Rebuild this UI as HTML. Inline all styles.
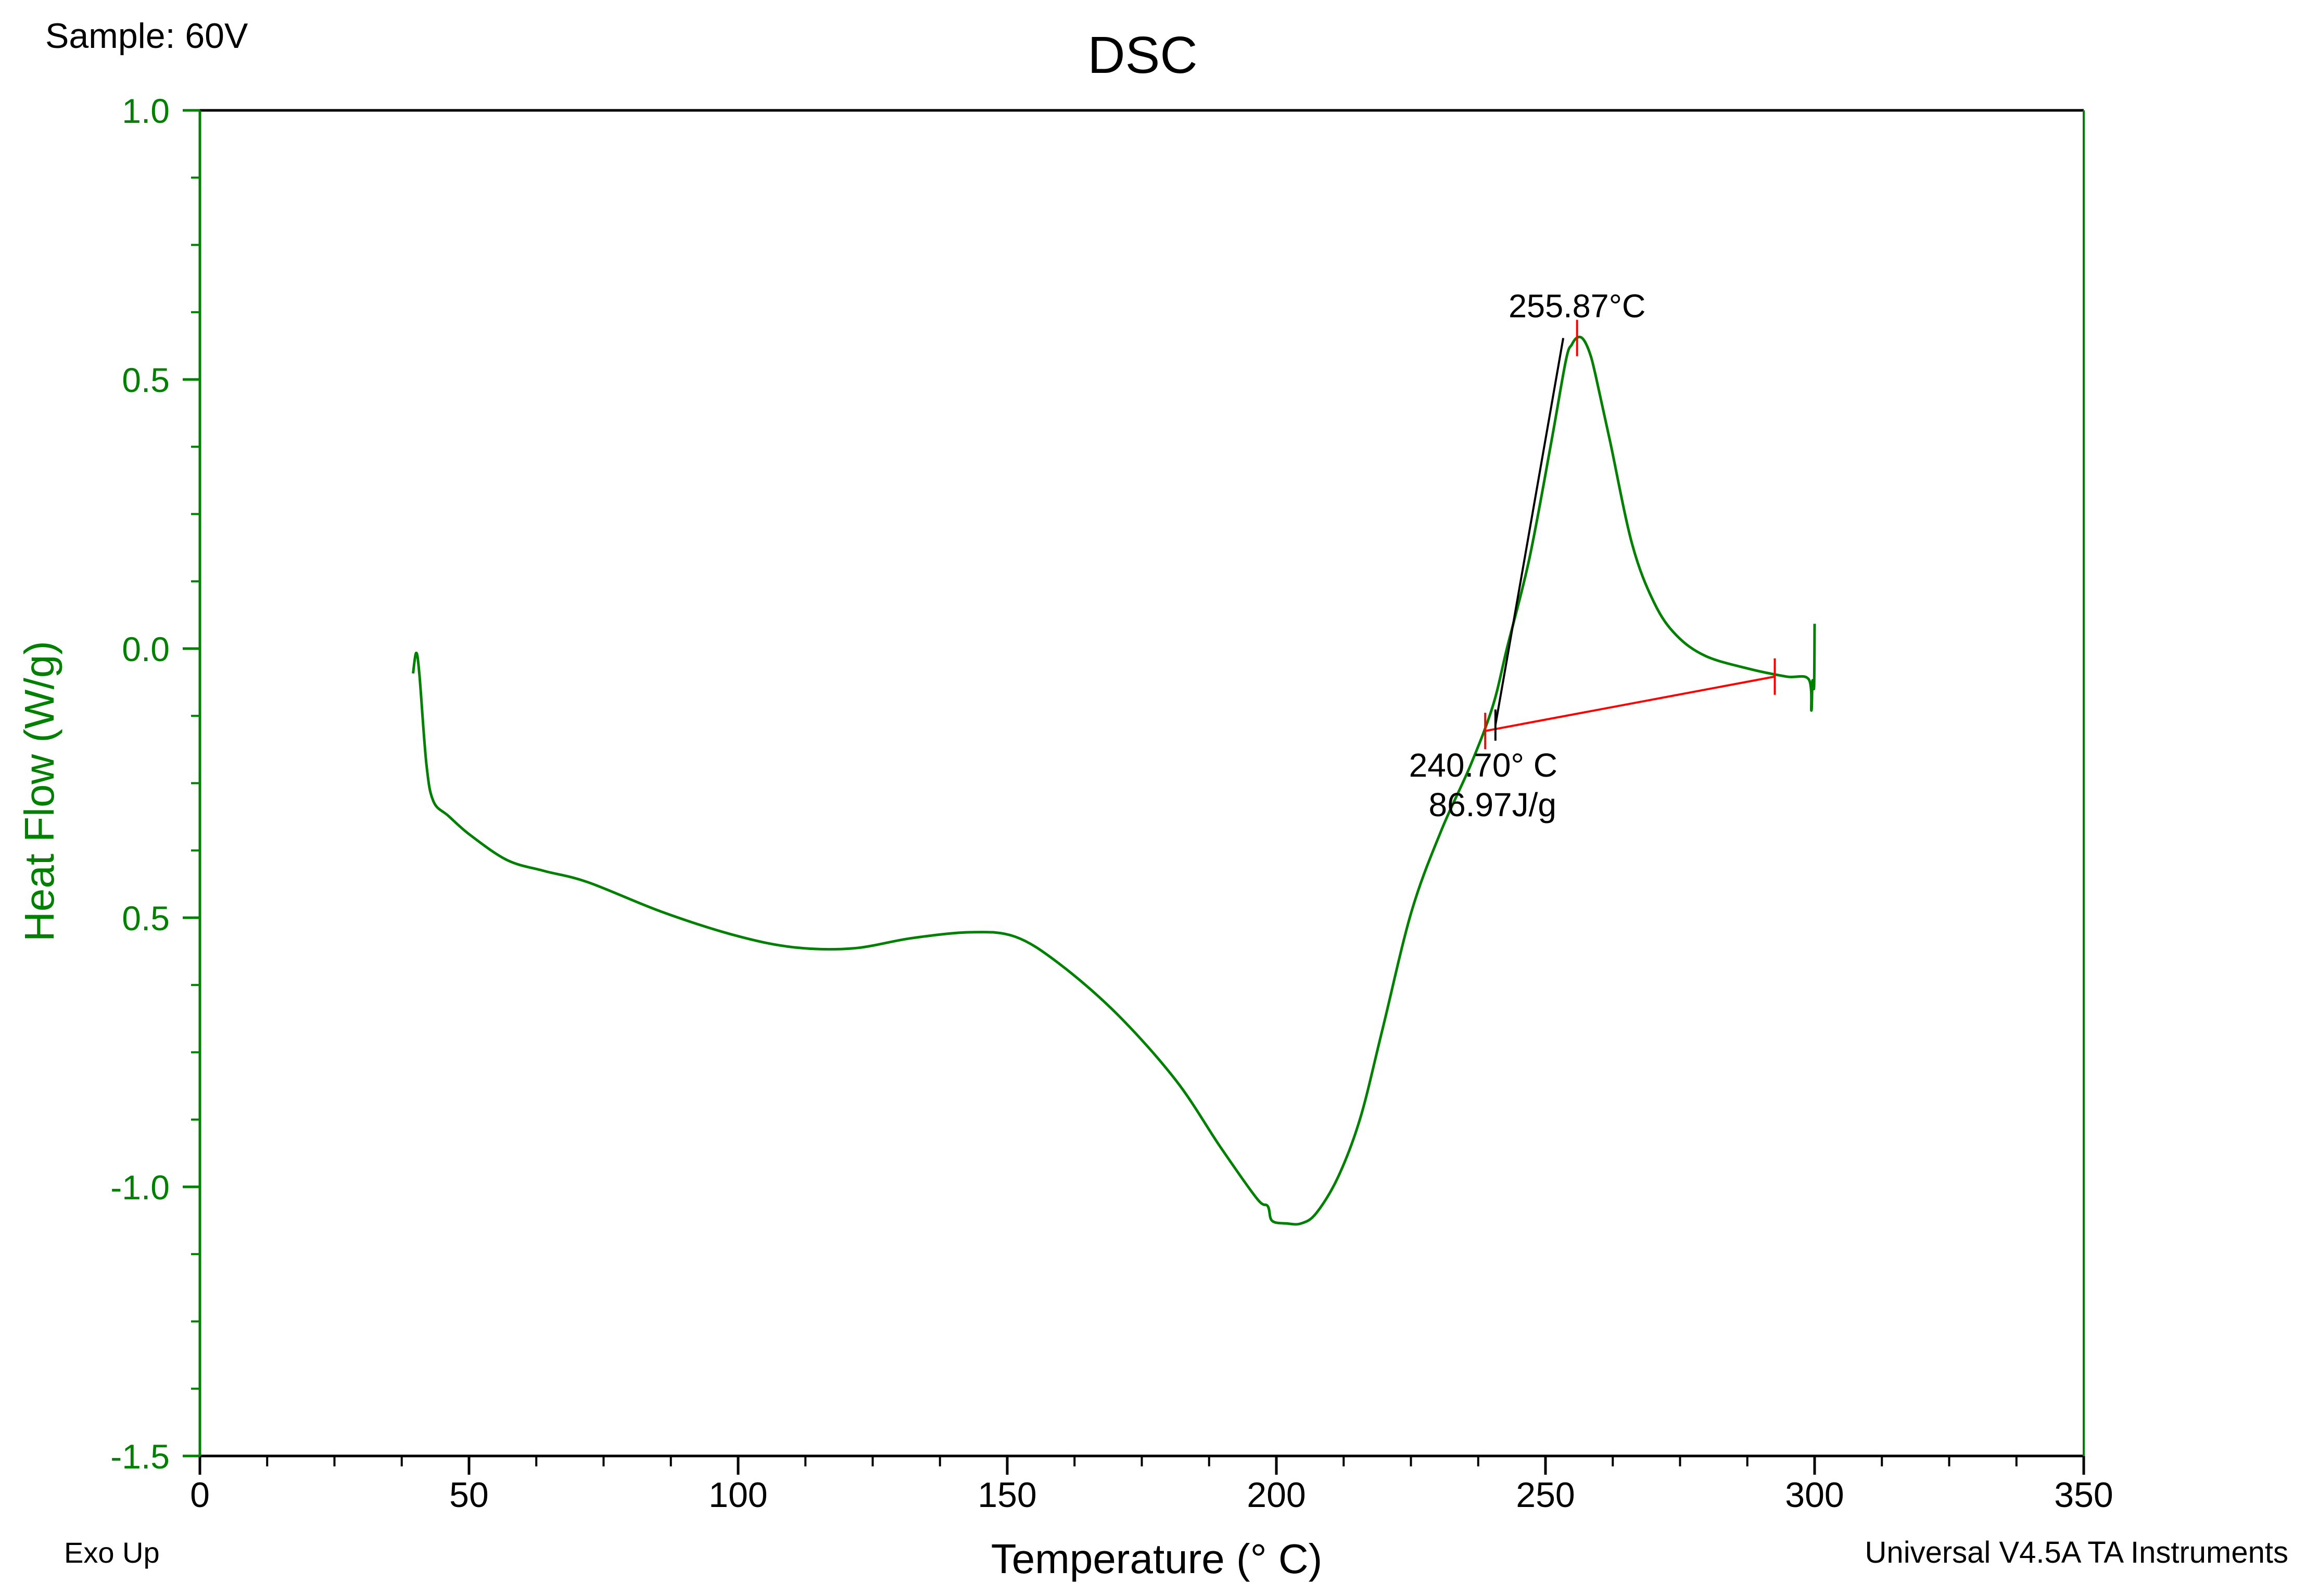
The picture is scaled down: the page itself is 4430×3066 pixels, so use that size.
<!DOCTYPE html>
<html><head><meta charset="utf-8"><style>
html,body{margin:0;padding:0;background:#fff;}
svg{display:block;font-family:"Liberation Sans",Arial,sans-serif;}
</style></head><body>
<svg id="chart" width="4430" height="3066" viewBox="0 0 4430 3066" xmlns="http://www.w3.org/2000/svg">
<rect width="4430" height="3066" fill="#fff"/>
<text x="87" y="92" font-size="68">Sample: 60V</text>
<text x="2195" y="140" font-size="100" text-anchor="middle">DSC</text>
<text x="123" y="3002" font-size="56">Exo Up</text>
<text x="4396" y="3002" font-size="58" text-anchor="end">Universal V4.5A TA Instruments</text>
<text x="2222" y="3022" font-size="80" text-anchor="middle">Temperature (° C)</text>
<text transform="translate(103,1520) rotate(-90)" font-size="80" fill="#008000" text-anchor="middle">Heat Flow (W/g)</text>
<g id="axes"></g>
<g id="plot"></g>
</svg>
<script>
const xTicks=[0,50,100,150,200,250,300,350];
const yTicks=[1.0,0.5,0.0,-0.5,-1.0,-1.5];
const yTickLabels=["1.0","0.5","0.0","0.5","-1.0","-1.5"];
const temps=[39.6,40.2,40.8,42.1,43.4,46.2,50.3,57.1,63.9,72.1,85.8,99.5,110.4,121.3,132.2,143.2,151.4,159.6,170.5,181.4,189.6,196.4,198.4,199.2,201.9,204.6,207.4,211.5,215.6,219.7,225.1,230.6,236.1,240.2,242.9,247.0,251.1,253.8,254.9,255.9,257.0,258.2,259.3,262.0,266.1,270.2,274.3,279.8,288.0,294.8,298.9,299.4,299.6,299.9,300.0];
const heatFlow=[-0.046,-0.008,-0.05,-0.216,-0.284,-0.311,-0.347,-0.393,-0.413,-0.434,-0.489,-0.533,-0.555,-0.557,-0.538,-0.527,-0.535,-0.585,-0.68,-0.803,-0.926,-1.022,-1.036,-1.063,-1.068,-1.068,-1.049,-0.981,-0.872,-0.708,-0.489,-0.339,-0.216,-0.107,0.003,0.167,0.385,0.536,0.565,0.578,0.575,0.55,0.508,0.385,0.194,0.085,0.025,-0.014,-0.038,-0.052,-0.057,-0.115,-0.06,-0.07,0.046];
const baseline=[[238.8,-0.153],[292.6,-0.052]];
const tangent=[[240.7,-0.142],[253.3,0.577]];
const peakT=255.87, peakW=0.577;

const L=384,R=4003,T=212,B=2797;
const sx=v=>L+(v-0)*(R-L)/350;
const sy=v=>T+(1.0-v)*(B-T)/2.5;
const NS="http://www.w3.org/2000/svg";
function mk(tag,attrs,parent,txt){const e=document.createElementNS(NS,tag);for(const k in attrs)e.setAttribute(k,attrs[k]);if(txt!==undefined)e.textContent=txt;parent.appendChild(e);return e;}
const ax=document.getElementById('axes'),pl=document.getElementById('plot');
let e;
e=mk('line',{x1:L,y1:T,x2:R,y2:T,stroke:'#000','stroke-width':5},ax);

e=mk('line',{x1:L,y1:B,x2:R,y2:B,stroke:'#000','stroke-width':5},ax);

e=mk('line',{x1:L,y1:T,x2:L,y2:B,stroke:'#008000','stroke-width':5},ax);

e=mk('line',{x1:R,y1:T,x2:R,y2:B,stroke:'#008000','stroke-width':4},ax);

xTicks.forEach((v,i)=>{
  e=mk('line',{x1:sx(v),y1:B,x2:sx(v),y2:B+36,stroke:'#000','stroke-width':5},ax);
  
  e=mk('text',{x:sx(v),y:2895,'font-size':68,'text-anchor':'middle'},ax,String(v));
  
  if(i<xTicks.length-1){for(let k=1;k<4;k++){const m=v+12.5*k;
    e=mk('line',{x1:sx(m),y1:B,x2:sx(m),y2:B+20,stroke:'#000','stroke-width':4},ax);
    }}
});
yTicks.forEach((v,i)=>{
  e=mk('line',{x1:L-33,y1:sy(v),x2:L,y2:sy(v),stroke:'#008000','stroke-width':5},ax);
  
  e=mk('text',{x:326,y:sy(v)+24,'font-size':66,'text-anchor':'end',fill:'#008000'},ax,yTickLabels[i]);
  
  if(i<yTicks.length-1){for(let k=1;k<4;k++){const m=v-0.125*k;
    e=mk('line',{x1:L-17,y1:sy(m),x2:L,y2:sy(m),stroke:'#008000','stroke-width':4},ax);
    }}
});
const P=temps.map((t,i)=>[sx(t),sy(heatFlow[i])]);
let d='M'+P[0][0].toFixed(1)+' '+P[0][1].toFixed(1);
for(let i=0;i<P.length-1;i++){
  const p0=P[Math.max(0,i-1)],p1=P[i],p2=P[i+1],p3=P[Math.min(P.length-1,i+2)];
  const k=1/6;
  const c1=[p1[0]+(p2[0]-p0[0])*k,p1[1]+(p2[1]-p0[1])*k];
  const c2=[p2[0]-(p3[0]-p1[0])*k,p2[1]-(p3[1]-p1[1])*k];
  d+=' C'+c1[0].toFixed(1)+' '+c1[1].toFixed(1)+' '+c2[0].toFixed(1)+' '+c2[1].toFixed(1)+' '+p2[0].toFixed(1)+' '+p2[1].toFixed(1);
}
e=mk('path',{d:d,fill:'none',stroke:'#008000','stroke-width':5,'stroke-linejoin':'round'},pl);

e=mk('line',{x1:sx(baseline[0][0]),y1:sy(baseline[0][1]),x2:sx(baseline[1][0]),y2:sy(baseline[1][1]),stroke:'#ff0000','stroke-width':4},pl);

baseline.forEach(p=>{e=mk('line',{x1:sx(p[0]),y1:sy(p[1])-35,x2:sx(p[0]),y2:sy(p[1])+35,stroke:'#ff0000','stroke-width':4},pl);
  });
e=mk('line',{x1:sx(tangent[0][0]),y1:sy(tangent[0][1]),x2:sx(tangent[1][0]),y2:sy(tangent[1][1]),stroke:'#000','stroke-width':4},pl);

e=mk('line',{x1:sx(tangent[0][0]),y1:sy(tangent[0][1])-30,x2:sx(tangent[0][0]),y2:sy(tangent[0][1])+30,stroke:'#000','stroke-width':4},pl);

e=mk('line',{x1:sx(peakT),y1:sy(peakW)-35,x2:sx(peakT),y2:sy(peakW)+35,stroke:'#ff0000','stroke-width':4},pl);

e=mk('text',{x:sx(peakT),y:sy(peakW)-40,'font-size':63,'text-anchor':'middle'},pl,'255.87°C');

e=mk('text',{x:2992,y:1492,'font-size':64,'text-anchor':'end'},pl,'240.70° C');

e=mk('text',{x:2990,y:1568,'font-size':64,'text-anchor':'end'},pl,'86.97J/g');

</script>
</body></html>
